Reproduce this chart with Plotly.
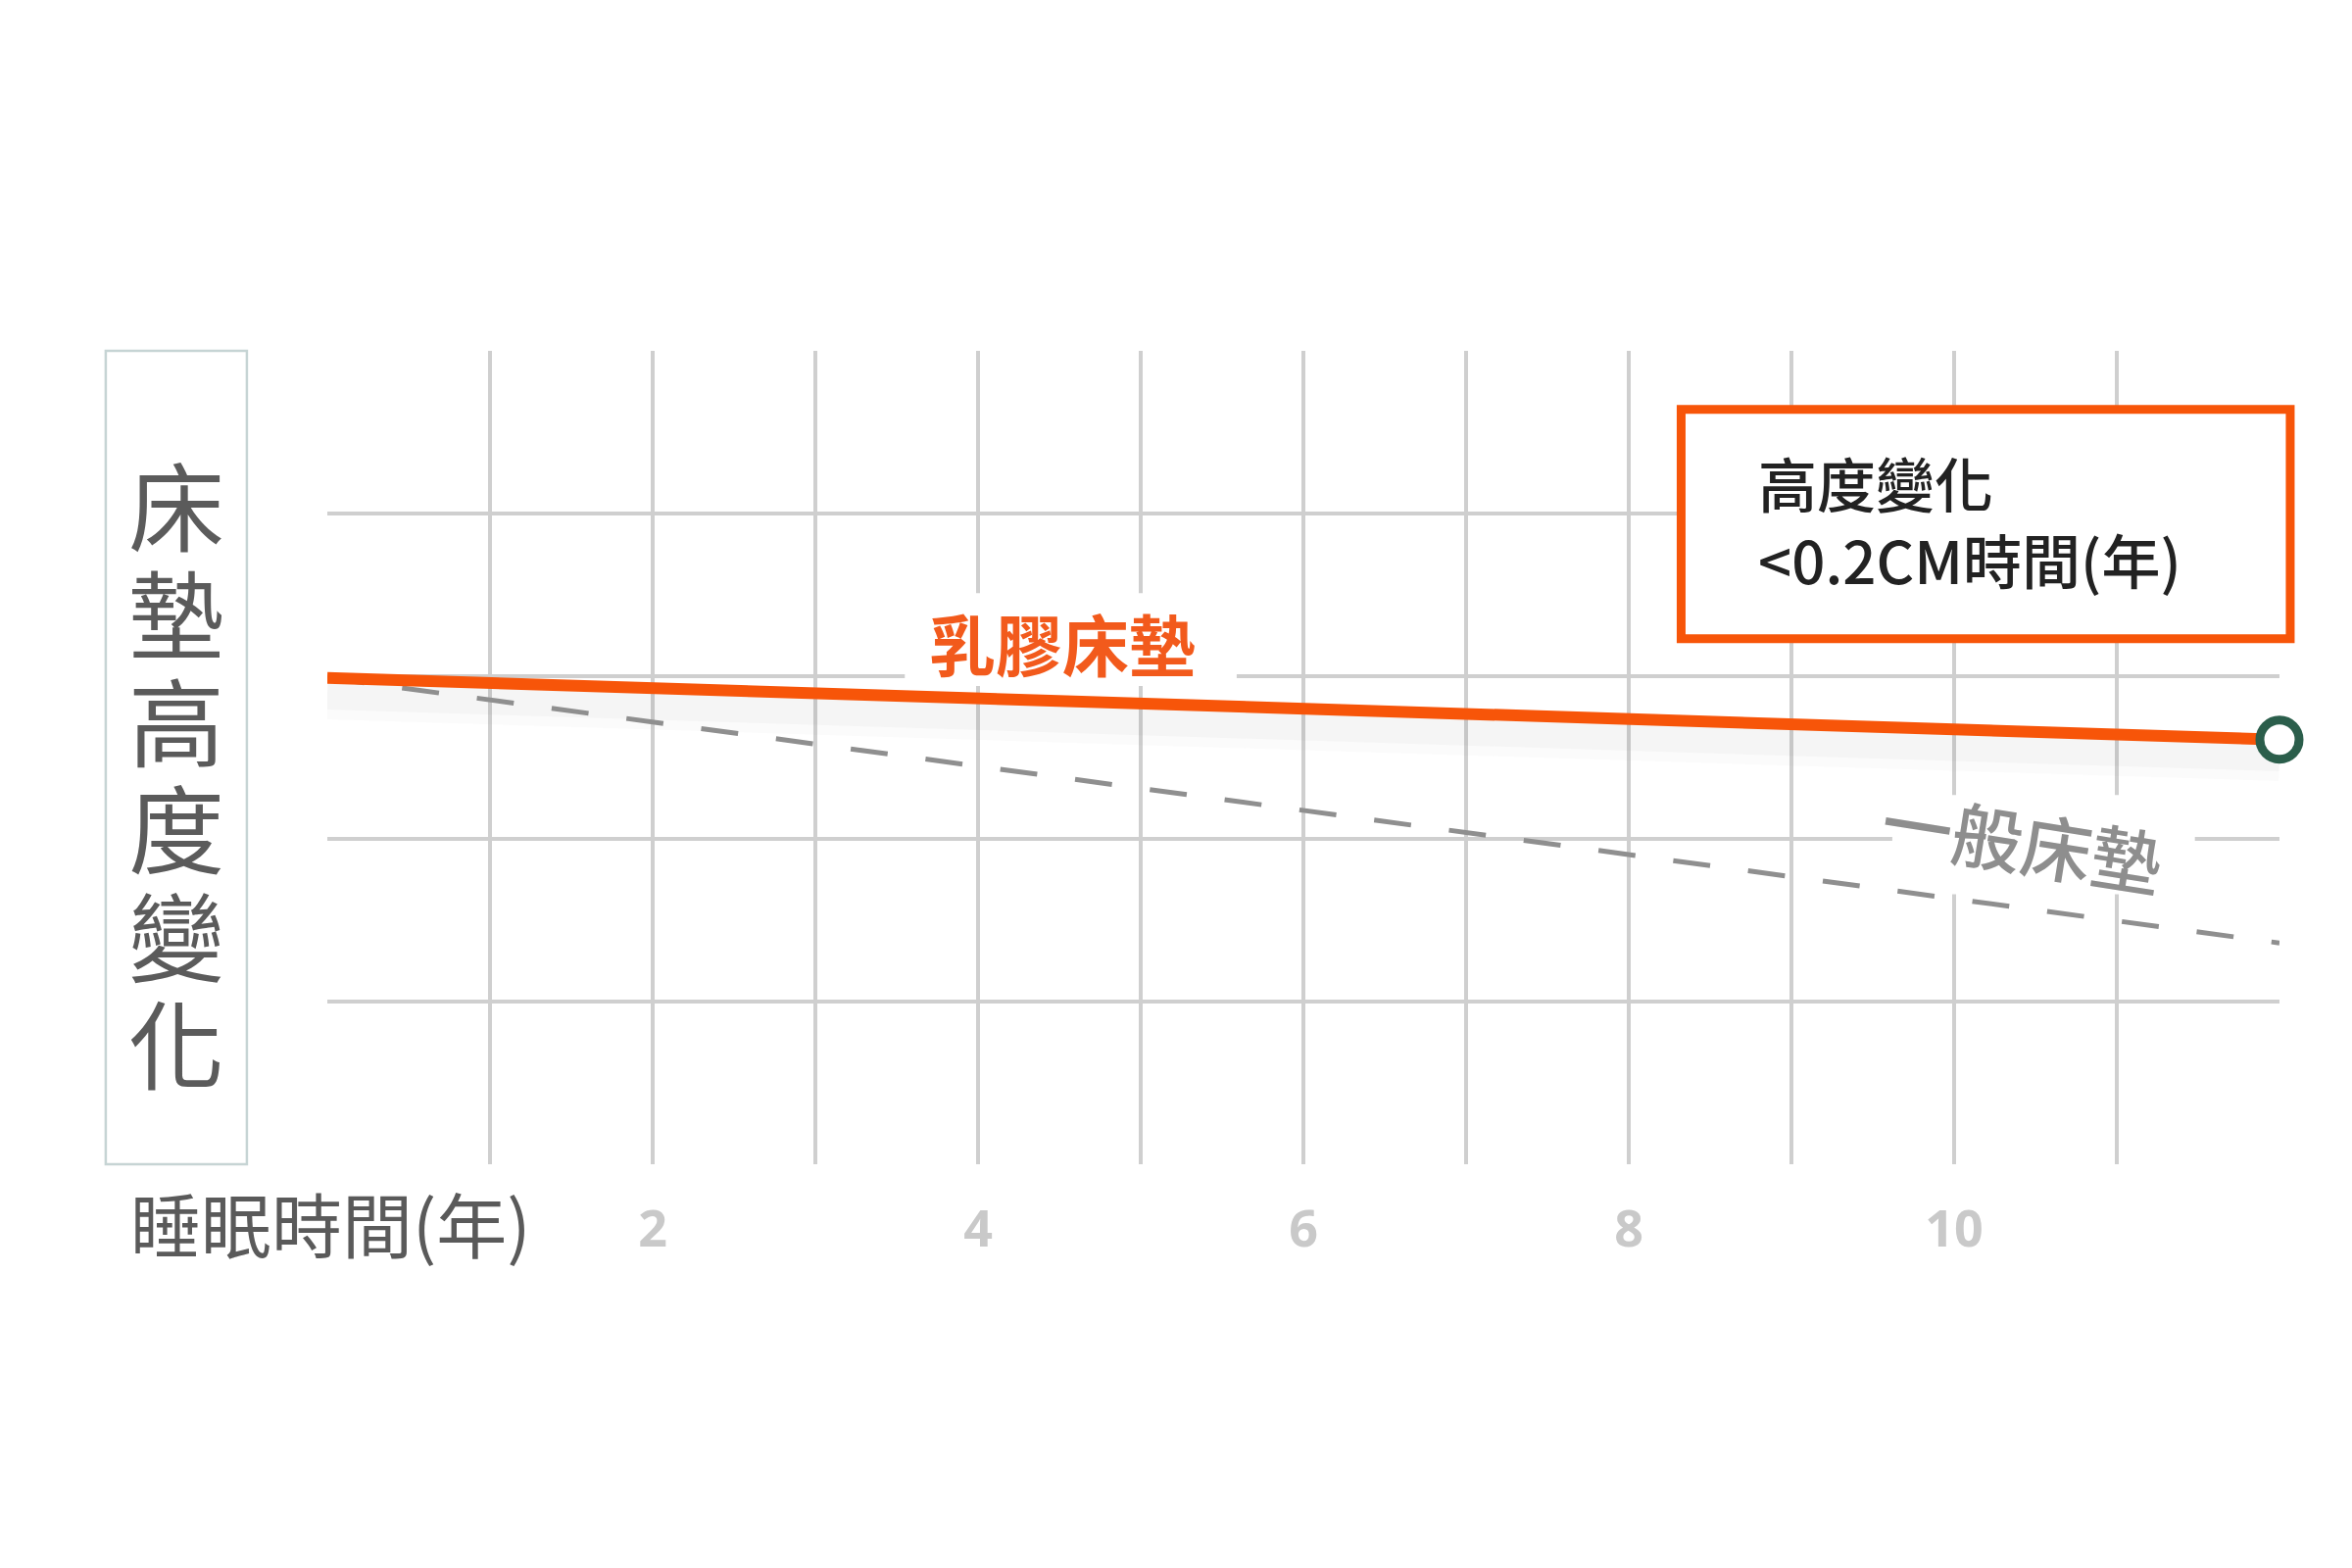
import plotly.graph_objects as go

# values (grid units, height change axis has no labels)
years = [0, 12]
latex_height = [2.99, 2.61]
regular_height = [2.99, 1.36]

tick_vals = [1, 2, 3, 4, 5, 6, 7, 8, 9, 10, 11]
tick_text = ["", "2", "", "4", "", "6", "", "8", "", "10", ""]
y_grid = [1, 2, 3, 4]

y_title_chars = ["床", "墊", "高", "度", "變", "化"]
box_lines = ["高度變化", "<0.2CM時間(年)"]

CJK = "Noto Sans CJK TC"
ORANGE = "#F75509"

fig = go.Figure()

# soft shadow under the latex line
for w, a in [(48, 0.025), (28, 0.035)]:
    fig.add_trace(go.Scatter(
        x=years, y=[v - 0.11 for v in latex_height], mode="lines",
        line=dict(color=f"rgba(90,90,90,{a})", width=w),
        hoverinfo="skip", showlegend=False))

fig.add_trace(go.Scatter(
    x=years, y=regular_height, mode="lines", name="一般床墊",
    line=dict(color="#8f8f8f", width=5, dash="38px,39px"),
    showlegend=False))

fig.add_trace(go.Scatter(
    x=years, y=latex_height, mode="lines", name="乳膠床墊",
    line=dict(color=ORANGE, width=12),
    showlegend=False))

fig.add_trace(go.Scatter(
    x=[years[-1]], y=[latex_height[-1]], mode="markers",
    marker=dict(symbol="circle", size=40, color="white",
                line=dict(color="#2B5E4B", width=9)),
    cliponaxis=False, showlegend=False))

fig.update_xaxes(
    range=[0, 12], tickvals=tick_vals, ticktext=tick_text,
    showgrid=True, gridcolor="#cfcfcf", gridwidth=3.5,
    zeroline=False, showline=False, ticks="", ticklabelstandoff=31,
    tickfont=dict(family="Open Sans", size=52, color="#c9c9c9", weight="bold"),
    automargin=False, fixedrange=True)
fig.update_yaxes(
    range=[0, 5], tickvals=y_grid, showticklabels=False,
    showgrid=True, gridcolor="#cfcfcf", gridwidth=3.5,
    zeroline=False, showline=False, ticks="", automargin=False)

shapes = [
    # white backing behind the two line labels (cuts the grid)
    dict(type="rect", xref="x", yref="y", x0=3.55, x1=5.59, y0=2.94, y1=3.51,
         fillcolor="white", line=dict(width=0), layer="between"),
    dict(type="rect", xref="x", yref="y", x0=9.62, x1=11.48, y0=1.66, y1=2.27,
         fillcolor="white", line=dict(width=0), layer="between"),
    # y title frame
    dict(type="rect", xref="paper", yref="paper", x0=-0.1135, x1=-0.0412, y0=0, y1=1.0,
         fillcolor="rgba(0,0,0,0)", line=dict(color="#c6d4d4", width=2.5), layer="above"),
    # info box
    dict(type="rect", xref="paper", yref="paper", x0=0.6935, x1=1.0055, y0=0.646, y1=0.928,
         fillcolor="white", line=dict(color=ORANGE, width=9), layer="above"),
]

annotations = [
    dict(x=4.52, y=3.21, xref="x", yref="y", text="乳膠床墊", showarrow=False,
         font=dict(family=CJK, size=68, color="#F25A1C", weight="bold")),
    dict(x=10.42, y=2.0, xref="x", yref="y", text="一般床墊", showarrow=False,
         textangle=9, font=dict(family=CJK, size=72, color="#8e8e8e", weight=500)),
    dict(x=-0.102, y=-0.071, xref="paper", yref="paper", xanchor="left", yanchor="middle",
         text="睡眠時間(年)", showarrow=False,
         font=dict(family=CJK, size=72, color="#5a5a5a")),
    # info box text
    dict(x=0.732, y=0.792, xref="paper", yref="paper",
         xanchor="left", yanchor="middle", align="left",
         text="<br>".join(box_lines), showarrow=False,
         font=dict(family=CJK, size=60, color="#222222", weight=500)),
]
# vertical y title, stacked characters
for i, ch in enumerate(y_title_chars):
    annotations.append(dict(
        x=-0.0773, y=0.815 - i * 0.1325, xref="paper", yref="paper",
        xanchor="center", yanchor="middle", text=ch, showarrow=False,
        font=dict(family=CJK, size=98, color="#5b5b5b")))

fig.update_layout(
    template="none",
    width=2384, height=1584,
    margin=dict(l=326, r=66, t=350, b=404, autoexpand=False),
    paper_bgcolor="white", plot_bgcolor="white",
    shapes=shapes, annotations=annotations,
    showlegend=False,
)

fig.write_html("out.html")
